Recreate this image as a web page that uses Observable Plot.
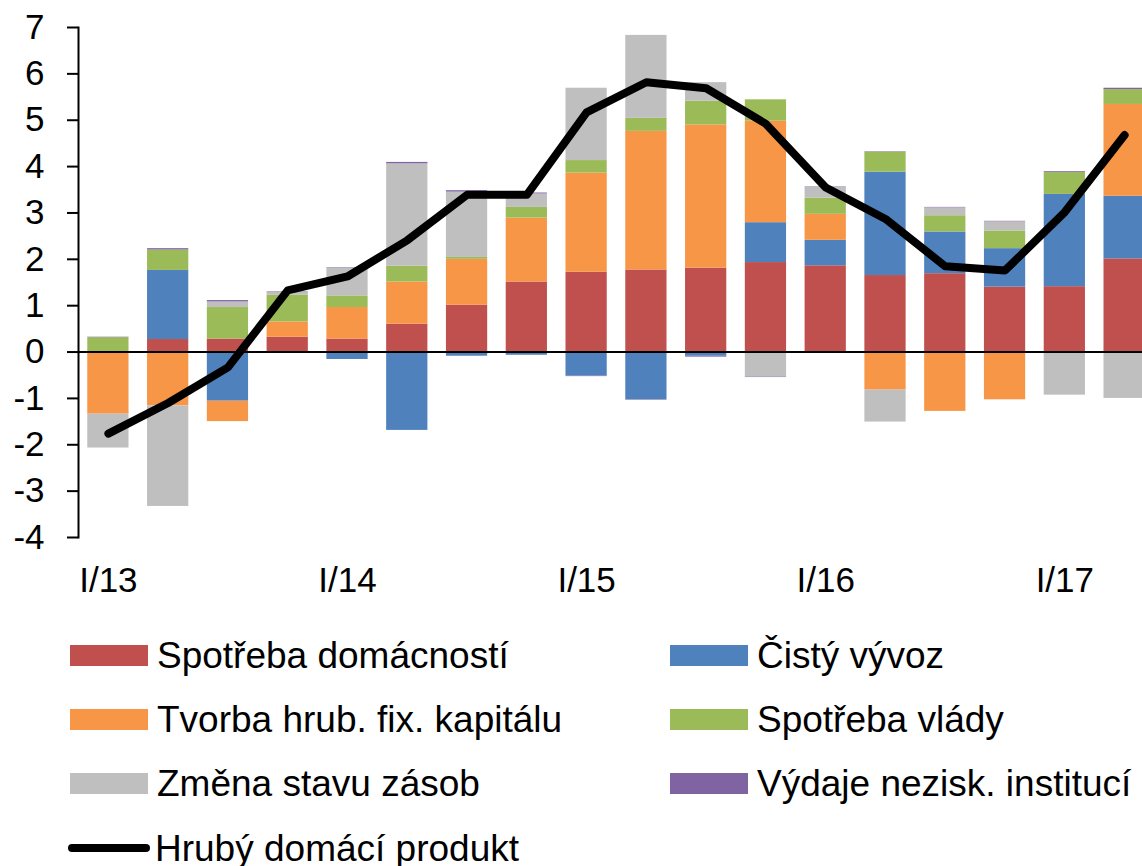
<!DOCTYPE html>
<html><head><meta charset="utf-8">
<script src="https://cdn.jsdelivr.net/npm/d3@7"></script>
<script src="https://cdn.jsdelivr.net/npm/@observablehq/plot@0.6"></script>
<style>
html,body{margin:0;padding:0;background:#fff;overflow:hidden;}
#wrap{position:relative;width:1142px;height:866px;overflow:hidden;font-family:"Liberation Sans",Arial,sans-serif;}
#chart svg{display:block;}
.leg{position:absolute;display:flex;align-items:center;height:44px;font-size:37px;line-height:1;color:#000;white-space:nowrap;}
.sw{width:78px;height:21px;margin-right:9px;flex:none;}
.ln{width:82px;height:8px;border-radius:4px;background:#000;margin-right:5px;flex:none;}
</style></head><body><div id="wrap"><div id="chart"></div><div id="legend"></div></div>
<script>
const quarters = ["I/13","II/13","III/13","IV/13","I/14","II/14","III/14","IV/14","I/15","II/15","III/15","IV/15","I/16","II/16","III/16","IV/16","I/17","II/17"];
const xTickLabels = ["I/13","I/14","I/15","I/16","I/17"];
const yTicks = [-4,-3,-2,-1,0,1,2,3,4,5,6,7];

const seriesNames = ["Spotřeba domácností","Čistý vývoz","Tvorba hrub. fix. kapitálu","Spotřeba vlády","Změna stavu zásob","Výdaje nezisk. institucí"];
const seriesColors = ["#C0504D","#4F81BD","#F79646","#9BBB59","#BFBFBF","#8064A2"];

const spotrebaDomacnosti = [0.00,0.27,0.28,0.32,0.28,0.60,1.01,1.51,1.72,1.77,1.81,1.93,1.86,1.65,1.69,1.40,1.41,2.01];
const cistyVyvoz        = [0.00,1.49,-1.06,0.00,-0.16,-1.69,-0.09,-0.07,-0.52,-1.03,-0.09,0.86,0.55,2.23,0.90,0.83,1.99,1.35];
const tvorbaKapitalu    = [-1.34,-1.16,-0.44,0.33,0.68,0.91,0.99,1.38,2.14,2.99,3.09,2.19,0.56,-0.82,-1.28,-1.03,0.00,1.98];
const spotrebaVlady     = [0.31,0.44,0.68,0.58,0.25,0.34,0.04,0.23,0.27,0.28,0.51,0.46,0.35,0.43,0.35,0.38,0.47,0.32];
const zmenaZasob        = [-0.73,-2.17,0.12,0.06,0.60,2.21,1.41,0.29,1.56,1.79,0.40,-0.54,0.23,-0.69,0.17,0.20,-0.93,-1.00];
const vydajeNezisk      = [0.01,0.03,0.03,0.01,0.01,0.03,0.03,0.02,-0.01,-0.01,-0.02,-0.01,0.01,0.01,0.01,0.01,0.02,0.03];
const hdp               = [-1.76,-1.10,-0.33,1.33,1.63,2.41,3.39,3.39,5.17,5.82,5.69,4.92,3.55,2.87,1.85,1.76,3.02,4.68];

const seriesValues = [spotrebaDomacnosti, cistyVyvoz, tvorbaKapitalu, spotrebaVlady, zmenaZasob, vydajeNezisk];
const rows = [];
seriesNames.forEach((s, i) => quarters.forEach((q, j) => rows.push({q, s, v: seriesValues[i][j]})));
const gdpRows = quarters.map((q, j) => ({q, v: hdp[j]}));

const chart = Plot.plot({
  width: 1142,
  height: 610,
  marginTop: 27,
  marginBottom: 73,
  marginLeft: 78,
  marginRight: -12,
  style: {fontFamily: "'Liberation Sans', Arial, sans-serif", background: "white", color: "black"},
  x: {type: "band", domain: quarters, paddingInner: 0.31, paddingOuter: 0.155, round: false},
  y: {domain: [-4, 7]},
  color: {domain: seriesNames, range: seriesColors},
  marks: [
    Plot.barY(rows, {x: "q", y: "v", fill: "s"}),
    Plot.ruleY([0], {stroke: "#000", strokeWidth: 2}),
    Plot.lineY(gdpRows, {x: "q", y: "v", stroke: "#000", strokeWidth: 8, strokeLinecap: "round", strokeLinejoin: "round"}),
    Plot.frame({anchor: "left", strokeWidth: 2}),
    Plot.axisY({ticks: yTicks, tickSize: 11, tickPadding: 23, fontSize: 35, strokeWidth: 2, tickFormat: d => String(d), label: null}),
    Plot.axisX({ticks: xTickLabels, tickSize: 0, tickPadding: 30, fontSize: 35, tickFormat: d => d, label: null})
  ]
});
document.getElementById("chart").appendChild(chart);

const legendItems = [
  {name: seriesNames[0], color: seriesColors[0], left: 70, cy: 655},
  {name: seriesNames[1], color: seriesColors[1], left: 670, cy: 655},
  {name: seriesNames[2], color: seriesColors[2], left: 70, cy: 719},
  {name: seriesNames[3], color: seriesColors[3], left: 670, cy: 719},
  {name: seriesNames[4], color: seriesColors[4], left: 70, cy: 783},
  {name: seriesNames[5], color: seriesColors[5], left: 670, cy: 783},
  {name: "Hrubý domácí produkt", line: true, left: 68, cy: 848}
];
const leg = document.getElementById("legend");
for (const it of legendItems) {
  const d = document.createElement("div");
  d.className = "leg";
  d.style.left = it.left + "px";
  d.style.top = (it.cy - 22) + "px";
  const sw = document.createElement("div");
  if (it.line) sw.className = "ln"; else { sw.className = "sw"; sw.style.background = it.color; }
  const t = document.createElement("span");
  t.textContent = it.name;
  d.appendChild(sw); d.appendChild(t);
  leg.appendChild(d);
}
</script></body></html>
